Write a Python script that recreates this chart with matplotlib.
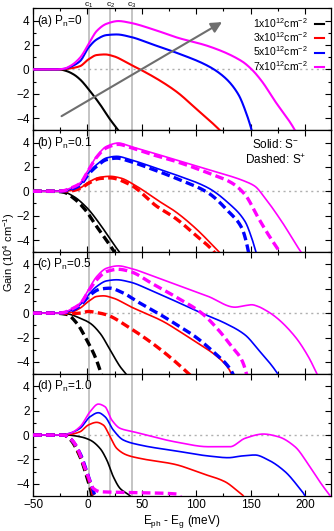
import numpy as np
import matplotlib
import matplotlib.pyplot as plt

matplotlib.use("Agg")

# carrier densities (legend) and colours
densities = ["1x10$^{12}$cm$^{-2}$", "3x10$^{12}$cm$^{-2}$",
             "5x10$^{12}$cm$^{-2}$", "7x10$^{12}$cm$^{-2}$"]
colors = ["black", "#ff0000", "#0000ff", "#ff00ff"]
panel_labels = ["(a) P$_n$=0", "(b) P$_n$=0.1", "(c) P$_n$=0.5", "(d) P$_n$=1.0"]
c_lines = [1, 21, 41]
c_names = ["c$_1$", "c$_2$", "c$_3$"]
arrow_from = (-26, -3.95)
arrow_to = (126, 4.0)

# (E_ph - E_g [meV], gain [1e4 cm^-1])
# panel (a), Pn = 0 (only S-)
a_s1 = [(-50, 0), (-30, 0), (-25.2, -0.01), (-19, -0.14), (-12.5, -0.42), (-6.8, -0.82),
        (2.4, -1.78), (11.6, -2.87), (20.8, -4.1), (28.5, -5.0), (31, -5.3)]
a_s3 = [(-50, 0), (-30, 0), (-22, 0.02), (-16, 0.08), (-6.8, 0.27), (0.9, 0.82), (8.5, 1.18),
        (16.2, 1.23), (23.9, 1.09), (39.2, 0.41), (51.4, -0.14), (69.8, -1.09), (83, -1.9),
        (99, -3.15), (121.9, -5), (124, -5.2)]
a_s5 = [(-50, 0), (-30, 0), (-22, 0.04), (-16, 0.2), (-6.8, 0.68), (0.9, 1.78), (8.5, 2.46),
        (17.7, 2.82), (26.9, 2.87), (39.2, 2.68), (60, 2.05), (83, 1.33), (111.2, 0.27),
        (126.5, -0.68), (138.8, -2.05), (146.5, -3.7), (151.1, -5), (152, -5.3)]
a_s7 = [(-50, 0), (-30, 0), (-22, 0.05), (-16, 0.27), (-6.8, 0.96), (0.9, 2.05), (8.5, 3.15),
        (17.7, 3.75), (28.5, 3.97), (39.2, 3.83), (60, 3.3), (83, 2.6), (111.2, 1.91),
        (141.9, 0.68), (151.1, 0), (160.3, -0.96), (172.5, -2.6), (190.9, -5.0), (192, -5.2)]

# panel (b), Pn = 0.1
b_s1 = [(-50, 0), (-30, 0), (-22, -0.05), (-12.9, -0.41), (-0.7, -1.33), (11.6, -2.71),
        (22.3, -4.11), (30, -5.06), (32, -5.3)]
b_d1 = [(-50, 0), (-30, 0), (-22, -0.07), (-12.9, -0.55), (-2.2, -1.5), (8.5, -2.89),
        (25.4, -5.06), (27, -5.3)]
b_s3 = [(-50, 0), (-30, 0), (-22, 0.01), (-16, 0.05), (-6.8, 0.27), (0.9, 0.74), (11.6, 1.15),
        (20.8, 1.23), (30, 1.1), (45.3, 0.41), (63.7, -0.69), (80.6, -1.65), (99, -3.0),
        (123.5, -5.2)]
b_d3 = [(-50, 0), (-30, 0), (-22, 0.01), (-16, 0.03), (-6.8, 0.22), (0.9, 0.65), (11.6, 1.05),
        (20.8, 1.1), (39.2, 0.55), (63.7, -1.23), (80.6, -2.19), (99, -3.56), (117.3, -5.07),
        (119, -5.3)]
b_s5 = [(-50, 0), (-30, 0), (-22, 0.03), (-16, 0.15), (-6.8, 0.55), (0.9, 1.5), (8.5, 2.19),
        (17.7, 2.74), (26.9, 2.87), (39.2, 2.6), (60, 2.0), (80.6, 1.37), (111.2, 0.27),
        (129.6, -0.96), (144.9, -2.47), (151.1, -3.84), (155.7, -5.2)]
b_d5 = [(-50, 0), (-30, 0), (-22, 0.03), (-16, 0.14), (-6.8, 0.5), (0.9, 1.4), (8.5, 2.05),
        (17.7, 2.6), (26.9, 2.72), (39.2, 2.45), (60, 1.8), (80.6, 1.1), (111.2, -0.14),
        (129.6, -1.65), (141.9, -3.0), (148, -4.93), (148.5, -5.2)]
b_s7 = [(-50, 0), (-30, 0), (-22, 0.05), (-16, 0.25), (-6.8, 0.68), (0.9, 1.78), (8.5, 2.87),
        (17.7, 3.69), (28.5, 3.96), (39.2, 3.69), (60, 3.15), (80.6, 2.6), (111.2, 1.78),
        (144.9, 0.82), (154.1, 0.41), (163.3, -0.55), (178.6, -2.47), (197, -5.06), (199, -5.3)]
b_d7 = [(-50, 0), (-30, 0), (-22, 0.05), (-16, 0.24), (-6.8, 0.65), (0.9, 1.72), (8.5, 2.8),
        (17.7, 3.58), (28.5, 3.85), (39.2, 3.6), (60, 3.0), (80.6, 2.47), (111.2, 1.5),
        (132.7, 0.69), (144.9, -0.27), (157.2, -2.19), (166.4, -3.56), (178.6, -5.2)]

# panel (c), Pn = 0.5
c_s1 = [(-50, 0), (-30, 0), (-19, -0.05), (-6.8, -0.41), (2.4, -0.82), (11.6, -1.65),
        (20.8, -3.0), (30, -4.38), (36.1, -5.07), (37, -5.2)]
c_d1 = [(-50, 0), (-30, 0), (-19, -0.1), (-9.85, -0.82), (-0.7, -2.19), (7, -3.56),
        (13.1, -5.07), (14, -5.3)]
c_s3 = [(-50, 0), (-30, 0), (-22, 0.01), (-16, 0.05), (-6.8, 0.41), (0.9, 0.96), (8.5, 1.37),
        (14.7, 1.42), (23.9, 1.23), (39.2, 0.55), (69.8, -0.69), (83, -1.4), (99, -2.33),
        (117.3, -3.42), (129.6, -4.52), (132.7, -5.07), (133.5, -5.3)]
c_d3 = [(-50, 0), (-30, 0), (-16, -0.03), (-6.8, 0.0), (0.9, 0.14), (8.5, 0.05), (17.7, -0.14),
        (39.2, -1.23), (63.7, -2.74), (83, -4.15), (95.9, -5.2)]
c_s5 = [(-50, 0), (-30, 0), (-22, 0.03), (-16, 0.18), (-6.8, 0.69), (0.9, 1.5), (8.5, 2.19),
        (17.7, 2.65), (26.9, 2.74), (39.2, 2.55), (60, 1.8), (83, 0.9), (105.1, 0),
        (126.5, -0.82), (144.9, -1.78), (157.2, -3.0), (175.6, -5.07), (177, -5.3)]
c_d5 = [(-50, 0), (-30, 0), (-22, 0.03), (-16, 0.16), (-6.8, 0.6), (0.9, 1.37), (11.6, 1.97),
        (20.8, 2.05), (30, 1.78), (48.4, 0.82), (69.8, -0.27), (83, -1.0), (99, -1.92),
        (117.3, -3.29), (129.6, -4.38), (134.2, -5.07), (135, -5.3)]
c_s7 = [(-50, 0), (-30, 0), (-22, 0.05), (-16, 0.28), (-6.8, 0.82), (0.9, 1.92), (8.5, 3.0),
        (17.7, 3.69), (28.5, 3.88), (39.2, 3.69), (60, 3.05), (83, 2.3), (111.2, 1.37),
        (135.7, 0.49), (145, 0.62), (151.1, 0.69), (157, 0.55), (163.3, 0.27), (172.5, -0.27),
        (190.9, -1.92), (203.1, -3.56), (212.3, -5.2)]
c_d7 = [(-50, 0), (-30, 0), (-22, 0.05), (-16, 0.27), (-6.8, 0.75), (0.9, 1.8), (8.5, 2.74),
        (17.7, 3.42), (28.5, 3.6), (39.2, 3.42), (60, 2.4), (80.6, 1.37), (105.1, 0),
        (120.4, -1.37), (132.7, -2.74), (141.9, -3.84), (146.5, -5.07), (147, -5.3)]

# panel (d), Pn = 1.0
d_s1 = [(-50, 0), (-30, 0), (-19, 0), (-6.8, -0.14), (2.4, -0.41), (11.6, -1.1), (17.8, -2.05),
        (23.8, -3.42), (30, -4.38), (39.2, -5), (41, -5.2)]
d_d1 = [(-50, 0), (-30, 0), (-22, 0), (-16, -0.35), (-6.8, -1.78), (-0.6, -3.42), (4, -4.92),
        (4.5, -5.2)]
d_s3 = [(-50, 0), (-30, 0), (-22, 0.01), (-16, 0.05), (-6.8, 0.27), (0.8, 0.82), (8.5, 1.04),
        (14.6, 0.82), (20.8, -0.14), (27, -1.1), (36.2, -1.64), (48.4, -1.92), (80.6, -2.41),
        (105.1, -3.15), (126.5, -3.83), (138.8, -4.65), (143.4, -5), (144.5, -5.2)]
d_d3 = [(-50, 0), (-30, 0), (-22, 0), (-16, -0.3), (-6.8, -1.65), (0, -3.3), (4.8, -4.7),
        (5.8, -5.2)]
d_s5 = [(-50, 0), (-30, 0), (-22, 0.03), (-16, 0.15), (-6.8, 0.55), (2.4, 1.5), (10, 1.83),
        (16.2, 1.5), (23.8, 0.41), (33, -0.41), (48.4, -0.82), (83, -1.33), (111.2, -1.72),
        (129.6, -1.86), (141.9, -1.72), (154.1, -1.64), (166.4, -2.05), (181.7, -3.0),
        (193.9, -4.24), (200.1, -5), (201, -5.2)]
d_d5 = [(-50, 0), (-30, 0), (-22, 0), (-16, -0.28), (-6.8, -1.5), (0.5, -3.3), (5.5, -4.6),
        (7.5, -5.2)]
d_s7 = [(-50, 0), (-30, 0), (-22, 0.04), (-16, 0.14), (-6.8, 0.68), (2.4, 1.91), (10, 2.54),
        (16.2, 2.32), (22.4, 1.23), (30, 0.55), (42.2, 0.27), (83, -0.6), (111.2, -0.96),
        (131.1, -0.96), (144.9, -0.27), (161.8, 0.08), (175.6, -0.14), (190.9, -0.96),
        (203.2, -2.41), (215.4, -4.05), (223.1, -4.97), (225, -5.2)]
d_d7 = [(-50, 0), (-30, 0), (-22.1, 0), (-16, -0.27), (-9.8, -0.96), (-3.8, -2.33), (0.8, -3.42),
        (5.4, -4.38), (11.6, -4.65), (40, -4.72), (82, -4.84), (86, -5.1)]

solid = [[a_s1, a_s3, a_s5, a_s7], [b_s1, b_s3, b_s5, b_s7],
         [c_s1, c_s3, c_s5, c_s7], [d_s1, d_s3, d_s5, d_s7]]
dashed = [[], [b_d1, b_d3, b_d5, b_d7], [c_d1, c_d3, c_d5, c_d7], [d_d1, d_d3, d_d5, d_d7]]


def smooth(points, num=500):
    """monotone cubic (pchip) through the read-off points"""
    x = np.array([p[0] for p in points], float)
    y = np.array([p[1] for p in points], float)
    h = np.diff(x)
    d = np.diff(y) / h
    m = np.zeros_like(x)
    for k in range(1, len(x) - 1):
        if d[k - 1] * d[k] > 0:
            w1 = 2 * h[k] + h[k - 1]
            w2 = h[k] + 2 * h[k - 1]
            m[k] = (w1 + w2) / (w1 / d[k - 1] + w2 / d[k])
    m[0], m[-1] = d[0], d[-1]
    xx = np.linspace(x[0], x[-1], num)
    i = np.clip(np.searchsorted(x, xx) - 1, 0, len(h) - 1)
    t = (xx - x[i]) / h[i]
    yy = ((2 * t**3 - 3 * t**2 + 1) * y[i] + (t**3 - 2 * t**2 + t) * h[i] * m[i]
          + (-2 * t**3 + 3 * t**2) * y[i + 1] + (t**3 - t**2) * h[i] * m[i + 1])
    return xx, yy


plt.rcParams["font.family"] = ["Liberation Sans", "DejaVu Sans"]
plt.rcParams["mathtext.fontset"] = "custom"
plt.rcParams["mathtext.rm"] = "Liberation Sans"
plt.rcParams["mathtext.it"] = "Liberation Sans"

fig, axes = plt.subplots(4, 1, figsize=(3.34, 5.31), dpi=100, sharex=True)
fig.subplots_adjust(left=0.099, right=0.991, top=0.984, bottom=0.066, hspace=0)

for p, ax in enumerate(axes):
    for xc in c_lines:
        ax.axvline(xc, color="#c4c4c4", lw=1.4, zorder=1)
    ax.axhline(0, color="#b0b0b0", lw=1.0, ls=(0, (1.5, 2.5)), zorder=1)
    lw = 1.5 if p == 0 else 1.2
    for k, pts in enumerate(solid[p]):
        xx, yy = smooth(pts)
        ax.plot(xx, yy, color=colors[k], lw=lw, zorder=3, label=densities[k])
    for k, pts in enumerate(dashed[p]):
        xx, yy = smooth(pts)
        ax.plot(xx, yy, color=colors[k], lw=2.4, dashes=(2.6, 1.3), zorder=3)
    ax.set_xlim(-50, 224)
    ax.set_ylim(-5, 5)
    ax.set_yticks([-4, -2, 0, 2, 4])
    ax.set_yticks(range(-5, 6), minor=True)
    ax.set_xticks(range(-50, 201, 50))
    ax.set_xticks(range(-50, 225, 25), minor=True)
    ax.tick_params(which="both", direction="in", top=True, right=True, labelsize=8.5,
                   width=0.8, pad=2.5)
    ax.tick_params(which="major", length=4)
    ax.tick_params(which="minor", length=2.5)
    for s in ax.spines.values():
        s.set_linewidth(0.9)
    ax.text(0.012, 0.9, panel_labels[p], transform=ax.transAxes, ha="left", va="center",
            fontsize=8.5)

ax = axes[0]
ax.annotate("", xy=arrow_to, xytext=arrow_from,
            arrowprops=dict(arrowstyle="-|>", color="#6e6e6e", lw=1.5, mutation_scale=16),
            zorder=4)
for xc, name in zip(c_lines, c_names):
    ax.text(xc, 4.88, name, ha="center", va="bottom", fontsize=6, clip_on=False)
ax.legend(loc="upper right", markerfirst=False, frameon=False, handlelength=0.8,
          handletextpad=0.7, labelspacing=0.05, borderaxespad=0.3, fontsize=7.5)

axes[1].text(0.815, 0.815, "Solid: S$^{-}$\nDashed: S$^{+}$", transform=axes[1].transAxes,
             ha="center", va="center", multialignment="center", fontsize=8.5,
             linespacing=1.2)

axes[3].set_xlabel("E$_{ph}$ - E$_g$ (meV)", fontsize=8.5, labelpad=1)
fig.text(0.028, 0.525, "Gain (10$^4$ cm$^{-1}$)", rotation=90, ha="center", va="center",
         fontsize=8)

fig.savefig("out.png", dpi=100)
